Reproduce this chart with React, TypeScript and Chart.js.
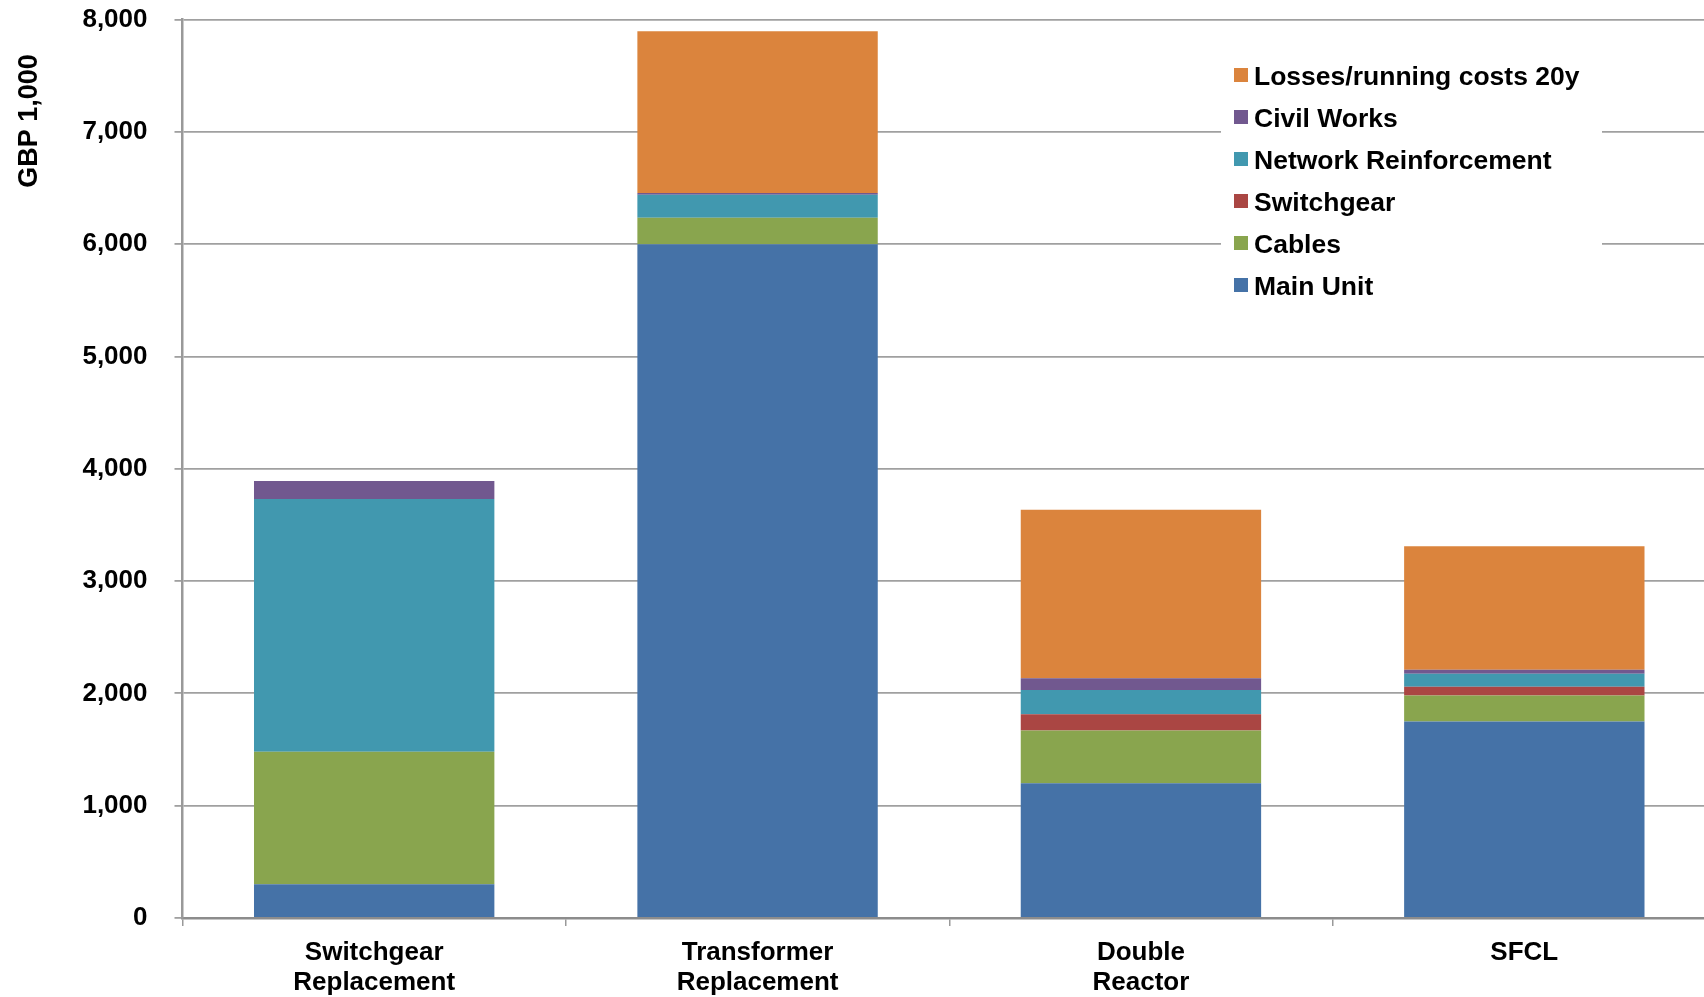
import { useEffect, useRef } from "react";
import { Chart, registerables } from "chart.js";

Chart.register(...registerables);

// Cost components per option (GBP thousands)
const categories: string[][] = [
  ["Switchgear", "Replacement"],
  ["Transformer", "Replacement"],
  ["Double", "Reactor"],
  ["SFCL"],
];
const mainUnit = [300, 6000, 1200, 1750];
const cables = [1180, 235, 470, 230];
const switchgear = [0, 0, 145, 80];
const networkReinforcement = [2250, 205, 215, 115];
const civilWorks = [160, 15, 105, 35];
const lossesRunning = [0, 1440, 1500, 1100];

const yMin = 0;
const yMax = 8000;
const yStep = 1000;
const yTitle = "GBP 1,000";

const FONT = '"Liberation Sans", Arial, Helvetica, sans-serif';

// Legend drawn on a white panel inside the plot area, top series first
const insideLegend = {
  id: "insideLegend",
  afterDatasetsDraw(chart: any) {
    const ctx = chart.ctx as CanvasRenderingContext2D;
    ctx.save();
    ctx.fillStyle = "#ffffff";
    ctx.fillRect(1221, 50, 381, 264);
    ctx.font = `bold 26.5px ${FONT}`;
    ctx.textBaseline = "alphabetic";
    ctx.textAlign = "left";
    const items = chart.data.datasets.slice().reverse();
    items.forEach((d: any, i: number) => {
      const base = 85 + i * 42;
      ctx.fillStyle = d.backgroundColor;
      ctx.fillRect(1234, base - 17, 14, 14);
      ctx.fillStyle = "#000000";
      ctx.fillText(d.label, 1254, base);
    });
    ctx.restore();
  },
};

// Rotated value-axis caption near the top of the axis
const axisCaption = {
  id: "axisCaption",
  afterDraw(chart: any) {
    const ctx = chart.ctx as CanvasRenderingContext2D;
    ctx.save();
    ctx.translate(30, 121);
    ctx.rotate(-Math.PI / 2);
    ctx.font = `bold 27px ${FONT}`;
    ctx.fillStyle = "#000000";
    ctx.textAlign = "center";
    ctx.textBaseline = "middle";
    ctx.fillText(yTitle, 0, 0);
    ctx.restore();
  },
};

export default function App() {
  const canvasRef = useRef<HTMLCanvasElement | null>(null);

  useEffect(() => {
    const canvas = canvasRef.current;
    if (!canvas) return;

    const seg = (label: string, data: number[], color: string) => ({
      label,
      data,
      backgroundColor: color,
      borderWidth: 0,
      barPercentage: 0.627,
      categoryPercentage: 1,
    });

    const chart = new Chart(canvas, {
      type: "bar",
      data: {
        labels: categories,
        datasets: [
          seg("Main Unit", mainUnit, "#4572A7"),
          seg("Cables", cables, "#89A54E"),
          seg("Switchgear", switchgear, "#AA4643"),
          seg("Network Reinforcement", networkReinforcement, "#4198AF"),
          seg("Civil Works", civilWorks, "#71588F"),
          seg("Losses/running costs 20y", lossesRunning, "#DB843D"),
        ],
      },
      options: {
        responsive: false,
        animation: false,
        devicePixelRatio: 1,
        layout: { padding: { top: 19.5, left: 0, right: 0, bottom: 0 } },
        plugins: {
          legend: { display: false },
          tooltip: { enabled: false },
        },
        scales: {
          x: {
            stacked: true,
            offset: true,
            afterFit: (s: any) => {
              s.height = 79;
            },
            grid: {
              display: true,
              offset: true,
              drawOnChartArea: false,
              drawTicks: true,
              tickLength: 8,
              color: "#999999",
              lineWidth: 1.5,
            },
            border: { display: true, color: "#8c8c8c", width: 2.5 },
            ticks: {
              color: "#000000",
              padding: 12,
              maxRotation: 0,
              autoSkip: false,
              font: { family: FONT, size: 26, weight: "bold", lineHeight: 1.14 },
            },
          },
          y: {
            stacked: true,
            min: yMin,
            max: yMax,
            afterFit: (s: any) => {
              s.width = 182.5;
              s.paddingTop = 0;
              s.paddingBottom = 0;
            },
            grid: {
              color: "#a0a0a0",
              lineWidth: 1.8,
              tickLength: 8,
              drawTicks: true,
            },
            border: { display: true, color: "#999999", width: 2.5 },
            ticks: {
              stepSize: yStep,
              color: "#000000",
              padding: 27,
              font: { family: FONT, size: 26, weight: "bold" },
              callback: (v: any) => Number(v).toLocaleString("en-US"),
            },
          },
        },
      },
      plugins: [insideLegend, axisCaption],
    });

    return () => chart.destroy();
  }, []);

  return (
    <div
      style={{
        position: "fixed",
        left: 0,
        top: 0,
        width: 1704,
        height: 997,
        overflow: "hidden",
        background: "#ffffff",
      }}
    >
      <canvas
        ref={canvasRef}
        width={1716}
        height={997}
        style={{ display: "block", width: 1716, height: 997 }}
      />
    </div>
  );
}
